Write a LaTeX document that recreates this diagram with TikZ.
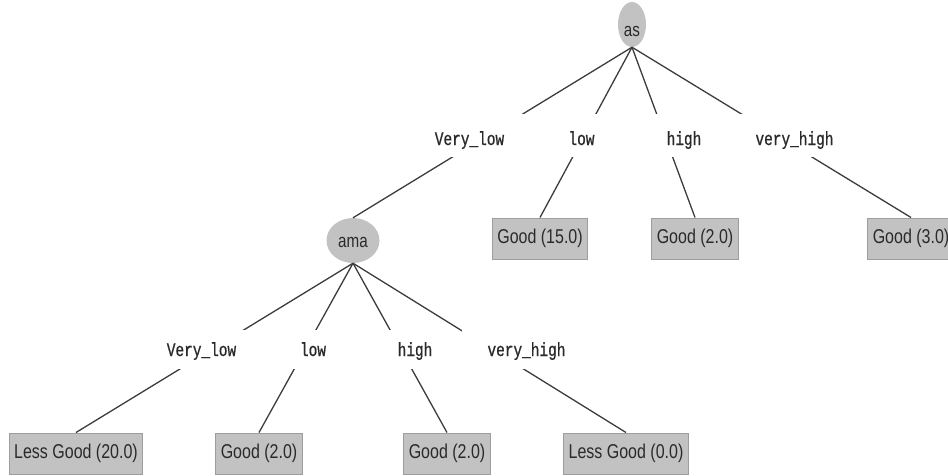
\documentclass[tikz,border=0pt]{standalone}
\usepackage{fontspec}
\setmainfont{Liberation Sans}[FakeStretch=0.8]
\newfontfamily\labfont{Liberation Mono}[FakeStretch=0.76,FakeBold=0.8]
\usetikzlibrary{shapes.geometric}
\definecolor{nodegray}{HTML}{C2C2C2}
\definecolor{boxedge}{HTML}{9E9E9E}
\definecolor{edgecol}{HTML}{3C3C3C}
\definecolor{textcol}{HTML}{2A2A2A}
\tikzset{
  splitnode/.style={ellipse, fill=nodegray, inner sep=0pt, text depth=0pt,
    text=textcol, font=\fontsize{19}{20}\selectfont},
  leafbox/.style={rectangle, fill=nodegray, draw=boxedge, line width=1pt,
    inner xsep=5pt, inner ysep=0pt, minimum height=41pt, text=textcol,
    font=\fontsize{20}{22}\selectfont, anchor=north},
  edgelab/.style={fill=white, inner xsep=26pt, inner ysep=0pt, text=textcol,
    font=\labfont\fontsize{19}{20}\selectfont, anchor=base},
  labone/.style={edgelab, text height=31pt, text depth=12pt},
  labtwo/.style={edgelab, text height=26pt, text depth=13pt},
  conn/.style={draw=edgecol, line width=1.3pt},
}
\begin{document}
\begin{tikzpicture}[x=1pt,y=-1pt]
\useasboundingbox (0,0) rectangle (948,475);
\clip (0,0) rectangle (948,475);
% split nodes
\node[splitnode, minimum width=28pt, minimum height=45pt, text height=23pt] (as) at (632,24.5) {as};
\node[splitnode, minimum width=53pt, minimum height=45pt, text height=14pt] (ama) at (353,240.5) {ama};
% leaves, level 1
\node[leafbox] (g15) at (540,217.5) {Good (15.0)};
\node[leafbox] (g2a) at (695,217.5) {Good (2.0)};
\node[leafbox] (g3) at (911,217.5) {Good (3.0)};
% leaves, level 2
\node[leafbox] (lg20) at (76,432.5) {Less Good (20.0)};
\node[leafbox] (g2b) at (259,432.5) {Good (2.0)};
\node[leafbox] (g2c) at (447,432.5) {Good (2.0)};
\node[leafbox] (lg0) at (626,432.5) {Less Good (0.0)};
% connectors
\draw[conn] (as.south) -- (ama.north);
\draw[conn] (as.south) -- (g15.north);
\draw[conn] (as.south) -- (g2a.north);
\draw[conn] (as.south) -- (g3.north);
\draw[conn] (ama.south) -- (lg20.north);
\draw[conn] (ama.south) -- (g2b.north);
\draw[conn] (ama.south) -- (g2c.north);
\draw[conn] (ama.south) -- (lg0.north);
% edge labels
\node[labone] (e1) at (469.5,145) {Very\_low};
\node[labone] (e2) at (581.5,145) {low};
\node[labone] (e3) at (684,145) {high};
\node[labone] (e4) at (794.5,145) {very\_high};
\node[labtwo] (e5) at (201.5,356) {Very\_low};
\node[labtwo] (e6) at (313,356) {low};
\node[labtwo] (e7) at (415,356) {high};
\node[labtwo] (e8) at (526.5,356) {very\_high};
\end{tikzpicture}
\end{document}
